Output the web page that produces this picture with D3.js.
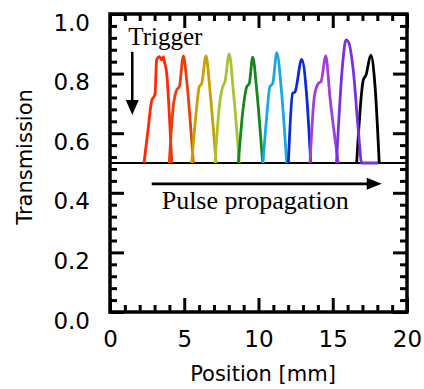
<!DOCTYPE html>
<html><head><meta charset="utf-8">
<script src="https://cdn.jsdelivr.net/npm/d3@7"></script>
<style>body{margin:0;background:#fff}</style>
</head><body><svg id="c" width="424" height="389"></svg>
<script>
// ---- data (Position [mm], Transmission) ----
const pulse1 = [[2.29,0.50],[2.58,0.62],[2.81,0.71],[3.03,0.73],[3.14,0.846],[3.32,0.857],[3.47,0.846],[3.59,0.856],[3.67,0.839],[3.82,0.80],[4.04,0.62],[4.16,0.50]];
const pulse2 = [[3.99,0.50],[4.26,0.689],[4.49,0.745],[4.67,0.756],[4.94,0.859],[5.16,0.779],[5.61,0.50]];
const pulse3 = [[5.50,0.50],[5.84,0.689],[6.01,0.756],[6.18,0.767],[6.46,0.859],[6.73,0.745],[7.14,0.50]];
const pulse4 = [[7.07,0.50],[7.36,0.689],[7.59,0.756],[7.74,0.773],[8.03,0.866],[8.30,0.745],[8.71,0.50]];
const pulse5 = [[8.64,0.50],[8.98,0.689],[9.21,0.756],[9.38,0.767],[9.61,0.855],[9.88,0.745],[10.28,0.50]];
const pulse6 = [[10.30,0.50],[10.55,0.655],[10.77,0.756],[10.96,0.767],[11.23,0.870],[11.56,0.734],[11.90,0.50]];
const pulse7 = [[12.01,0.50],[12.30,0.734],[12.46,0.739],[12.91,0.848],[13.25,0.722],[13.52,0.50]];
const pulse8 = [[13.47,0.50],[13.76,0.722],[14.03,0.767],[14.21,0.773],[14.53,0.859],[14.81,0.722],[15.37,0.50]];
const pulse9 = [[15.25,0.50],[15.67,0.835],[15.89,0.913],[16.05,0.907],[16.38,0.812],[16.72,0.611],[16.95,0.50],[18.05,0.50]];
const pulse10 = [[16.61,0.50],[17.06,0.779],[17.24,0.795],[17.56,0.862],[17.85,0.756],[18.13,0.50]];
const pulseColors = ["#ff2a00","#e8400c","#c8a000","#a8c332","#12891a","#1aa8e0","#0a2ad6","#a03ed8","#7a2fe0","#000000"];
const baselineLevel = 0.5;
const xTickValues = [0,5,10,15,20];
const yTickValues = [0,0.2,0.4,0.6,0.8,1.0];
const triggerLabel = {text:"Trigger", x:1.23, y:0.896};
const triggerArrow = {x:1.50, y0:0.873, y1:0.661};
const propLabel = {text:"Pulse propagation", x:3.48, y:0.345};
const propArrow = {y:0.43, x0:2.81, x1:18.30};

// ---- scales ----
const svg = d3.select("#c");
const x = d3.scaleLinear().domain([0,20]).range([110,407]);
const y = d3.scaleLinear().domain([0,1]).range([312,14]);
const sans = "DejaVu Sans, sans-serif";
const serif = "Liberation Serif, Times New Roman, serif";

// baseline
svg.append("line").attr("x1",x(0)).attr("x2",x(20)).attr("y1",y(baselineLevel)).attr("y2",y(baselineLevel))
  .attr("stroke","#000").attr("stroke-width",2);

// pulses (violet last so its tail lies on top)
const line = d3.line().x(d=>x(d[0])).y(d=>y(d[1])).curve(d3.curveMonotoneX);
const order = [0,1,2,3,4,5,6,7,9,8];
const allPulses = [pulse1,pulse2,pulse3,pulse4,pulse5,pulse6,pulse7,pulse8,pulse9,pulse10];
order.forEach(i=>{
  svg.append("path").attr("d",line(allPulses[i])).attr("fill","none")
    .attr("stroke",pulseColors[i]).attr("stroke-width",2.8).attr("stroke-linejoin","round");
});

// ticks (inward on all sides)
const xMinor = d3.range(0,20.001,1), yMinor = d3.range(0,1.0001,0.04);
function tickStyle(g){ g.select(".domain").remove(); g.selectAll("line").attr("stroke","#000").attr("stroke-width",3); }
const isMajX = v => Math.abs(v/5 - Math.round(v/5))<1e-6;
const isMajY = v => Math.abs(v/0.2 - Math.round(v/0.2))<1e-6;
[["bottom",312],["top",14]].forEach(([side,pos])=>{
  const ax = side==="bottom" ? d3.axisTop(x) : d3.axisBottom(x);
  const g = svg.append("g").attr("transform",`translate(0,${pos})`).call(ax.tickValues(xMinor).tickFormat("").tickSize(7));
  tickStyle(g);
  g.selectAll(".tick line").attr("y2",d=> (side==="bottom"?-1:1)*(isMajX(d)?14:7));
});
[["left",110],["right",407]].forEach(([side,pos])=>{
  const ax = side==="left" ? d3.axisRight(y) : d3.axisLeft(y);
  const g = svg.append("g").attr("transform",`translate(${pos},0)`).call(ax.tickValues(yMinor).tickFormat("").tickSize(7));
  tickStyle(g);
  g.selectAll(".tick line").attr("x2",d=> (side==="left"?1:-1)*(isMajY(d)?14:7));
});

// frame
svg.append("rect").attr("x",x(0)).attr("y",y(1)).attr("width",x(20)-x(0)).attr("height",y(0)-y(1))
  .attr("fill","none").attr("stroke","#000").attr("stroke-width",3.5);

// tick labels
const gx = svg.append("g").attr("transform",`translate(0,${y(0)})`)
  .call(d3.axisBottom(x).tickValues(xTickValues).tickSize(0).tickPadding(19).tickFormat(d3.format("d")));
gx.select(".domain").remove();
gx.selectAll("text").attr("font-family",sans).attr("font-size",23).attr("fill","#000");
const gy = svg.append("g").attr("transform",`translate(${x(0)},0)`)
  .call(d3.axisLeft(y).tickValues(yTickValues).tickSize(0).tickPadding(20).tickFormat(d3.format(".1f")));
gy.select(".domain").remove();
gy.selectAll("text").attr("font-family",sans).attr("font-size",23).attr("fill","#000").attr("dy","0.7em");

// axis titles
svg.append("text").attr("x",263).attr("y",381).attr("text-anchor","middle")
  .attr("font-family",sans).attr("font-size",21).text("Position [mm]");
svg.append("text").attr("transform","translate(32,157) rotate(-90)").attr("text-anchor","middle")
  .attr("font-family",sans).attr("font-size",21).text("Transmission");

// annotations
svg.append("text").attr("x",x(triggerLabel.x)).attr("y",y(triggerLabel.y))
  .attr("font-family",serif).attr("font-size",25).text(triggerLabel.text);
svg.append("text").attr("x",x(propLabel.x)).attr("y",y(propLabel.y))
  .attr("font-family",serif).attr("font-size",26).text(propLabel.text);
// down arrow
{
  const ax = x(triggerArrow.x), ya = y(triggerArrow.y0), yb = y(triggerArrow.y1);
  svg.append("line").attr("x1",ax).attr("x2",ax).attr("y1",ya).attr("y2",yb-10).attr("stroke","#000").attr("stroke-width",2.5);
  svg.append("path").attr("d",`M${ax-6.5},${yb-15}L${ax+6.5},${yb-15}L${ax},${yb}Z`).attr("fill","#000");
}
// right arrow
{
  const ya = y(propArrow.y), xa = x(propArrow.x0), xb = x(propArrow.x1);
  svg.append("line").attr("x1",xa).attr("x2",xb-10).attr("y1",ya).attr("y2",ya).attr("stroke","#000").attr("stroke-width",2.7);
  svg.append("path").attr("d",`M${xb-15},${ya-6}L${xb-15},${ya+6}L${xb},${ya}Z`).attr("fill","#000");
}
</script></body></html>
